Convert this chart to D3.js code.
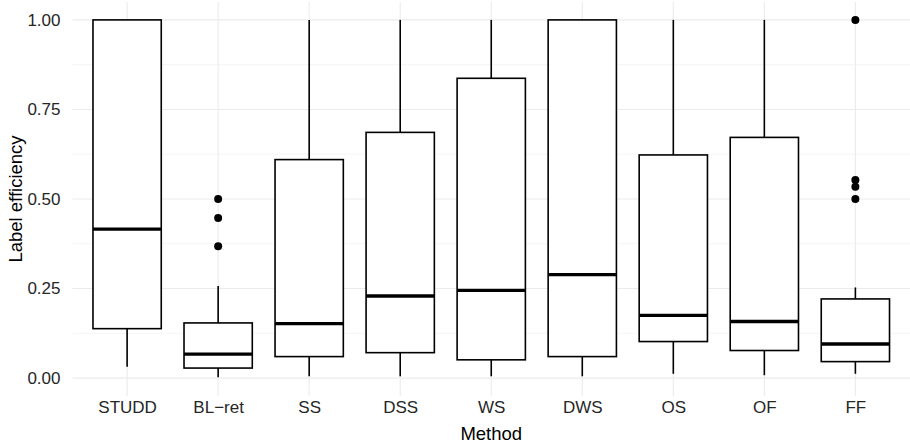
<!DOCTYPE html>
<html>
<head>
<meta charset="utf-8">
<script src="https://cdn.jsdelivr.net/npm/d3@7"></script>
<style>
  body { margin: 0; background: #fff; }
  text { font-family: "Liberation Sans", Arial, Helvetica, sans-serif; }
</style>
</head>
<body>
<svg id="chart" width="910" height="445"></svg>
<script>
// box stats
var methods = ["STUDD", "BL\u2212ret", "SS", "DSS", "WS", "DWS", "OS", "OF", "FF"];
var whiskerLow = [0.032, 0.002, 0.005, 0.005, 0.005, 0.005, 0.012, 0.008, 0.012];
var q1 = [0.138, 0.028, 0.060, 0.071, 0.051, 0.060, 0.102, 0.077, 0.046];
var medians = [0.416, 0.067, 0.152, 0.229, 0.245, 0.289, 0.175, 0.158, 0.095];
var q3 = [1.000, 0.154, 0.610, 0.686, 0.837, 1.000, 0.623, 0.672, 0.221];
var whiskerHigh = [1.000, 0.257, 1.000, 1.000, 1.000, 1.000, 1.000, 1.000, 0.253];
var outliers = [[], [0.5, 0.447, 0.368], [], [], [], [], [], [], [1.0, 0.553, 0.534, 0.5]];
var yTicks = [0, 0.25, 0.5, 0.75, 1];
var yMinor = [0.125, 0.375, 0.625, 0.875];

var svg = d3.select("#chart");
var panelLeft = 72.5, panelRight = 910, panelTop = 2, panelBottom = 396;

// ggplot discrete expansion: 0.6 unit on each side
var unit = (panelRight - panelLeft) / (methods.length - 1 + 1.2);
var x = d3.scalePoint()
    .domain(methods)
    .range([panelLeft + 0.6 * unit, panelRight - 0.6 * unit]);
var boxW = unit * 0.75;

var y = d3.scaleLinear().domain([-0.05, 1.05]).range([panelBottom, panelTop]);

var grid = svg.append("g");
grid.selectAll(".minor").data(yMinor).enter().append("line")
    .attr("x1", panelLeft).attr("x2", panelRight)
    .attr("y1", d => y(d)).attr("y2", d => y(d))
    .attr("stroke", "#f3f3f3").attr("stroke-width", 0.8);
grid.selectAll(".major").data(yTicks).enter().append("line")
    .attr("x1", panelLeft).attr("x2", panelRight)
    .attr("y1", d => y(d)).attr("y2", d => y(d))
    .attr("stroke", "#ebebeb").attr("stroke-width", 1.1);
grid.selectAll(".vmajor").data(methods).enter().append("line")
    .attr("x1", d => x(d)).attr("x2", d => x(d))
    .attr("y1", panelTop).attr("y2", panelBottom)
    .attr("stroke", "#ebebeb").attr("stroke-width", 1.1);

// axes (text only, like theme_minimal)
var yAxis = svg.append("g")
    .attr("transform", "translate(" + (panelLeft - 9) + ",0)")
    .call(d3.axisLeft(y).tickValues(yTicks).tickFormat(d3.format(".2f")).tickSize(0));
yAxis.select(".domain").remove();
yAxis.selectAll("text").attr("font-size", 17).attr("fill", "#262626")
    .attr("font-family", "Liberation Sans, Arial, sans-serif");

var xAxis = svg.append("g")
    .attr("transform", "translate(0," + (panelBottom + 5) + ")")
    .call(d3.axisBottom(x).tickSize(0).tickPadding(0));
xAxis.select(".domain").remove();
xAxis.selectAll("text").attr("font-size", 17).attr("fill", "#262626")
    .attr("font-family", "Liberation Sans, Arial, sans-serif");

svg.append("text")
    .attr("x", (panelLeft + panelRight) / 2).attr("y", 440)
    .attr("text-anchor", "middle").attr("font-size", 18.5).attr("fill", "#000")
    .text("Method");
svg.append("text")
    .attr("transform", "translate(22," + ((panelTop + panelBottom) / 2) + ") rotate(-90)")
    .attr("text-anchor", "middle").attr("font-size", 18.5).attr("fill", "#000")
    .text("Label efficiency");

// boxes
var boxes = svg.append("g").selectAll("g").data(methods).enter().append("g");
boxes.append("line")
    .attr("x1", d => x(d)).attr("x2", d => x(d))
    .attr("y1", (d, i) => y(q3[i])).attr("y2", (d, i) => y(whiskerHigh[i]))
    .attr("stroke", "#000").attr("stroke-width", 1.6);
boxes.append("line")
    .attr("x1", d => x(d)).attr("x2", d => x(d))
    .attr("y1", (d, i) => y(q1[i])).attr("y2", (d, i) => y(whiskerLow[i]))
    .attr("stroke", "#000").attr("stroke-width", 1.6);
boxes.append("rect")
    .attr("x", d => x(d) - boxW / 2).attr("width", boxW)
    .attr("y", (d, i) => y(q3[i])).attr("height", (d, i) => y(q1[i]) - y(q3[i]))
    .attr("fill", "#fff").attr("stroke", "#000").attr("stroke-width", 1.6);
boxes.append("line")
    .attr("x1", d => x(d) - boxW / 2).attr("x2", d => x(d) + boxW / 2)
    .attr("y1", (d, i) => y(medians[i])).attr("y2", (d, i) => y(medians[i]))
    .attr("stroke", "#000").attr("stroke-width", 3.4);
boxes.each(function(d, i) {
    d3.select(this).selectAll("circle").data(outliers[i]).enter().append("circle")
        .attr("cx", x(d)).attr("cy", v => y(v)).attr("r", 4)
        .attr("fill", "#000");
});
</script>
</body>
</html>
